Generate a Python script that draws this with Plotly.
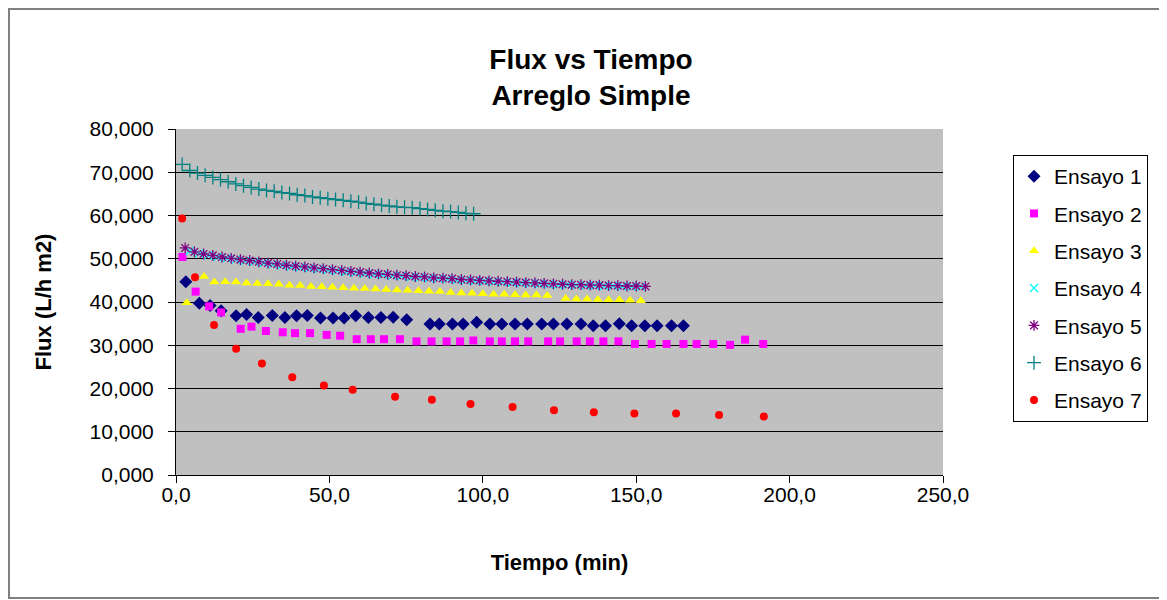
import plotly.graph_objects as go

# Ensayo data (Tiempo in min, Flux in L/h m2)
t1 = [3.2, 7.6, 11.1, 14.7, 19.6, 23.0, 26.8, 31.4, 35.5, 39.3, 42.8, 47.1, 51.2, 54.8,
      58.6, 62.7, 66.8, 70.8, 75.2, 82.8, 85.8, 90.1, 93.6, 98.0, 102.3, 106.2, 110.5,
      114.5, 119.2, 123.0, 127.4, 132.0, 136.0, 140.0, 144.5, 148.5, 152.8, 156.8, 161.5, 165.4]
f1 = [44.7, 39.7, 39.2, 38.0, 36.8, 37.1, 36.4, 36.9, 36.4, 36.8, 36.9, 36.3, 36.3, 36.3,
      36.8, 36.4, 36.4, 36.5, 35.9, 34.9, 34.9, 34.9, 34.9, 35.3, 34.9, 34.9, 34.9,
      34.9, 34.9, 34.9, 34.9, 34.9, 34.5, 34.5, 35.0, 34.5, 34.5, 34.5, 34.5, 34.5]

t2 = [2.1, 6.4, 10.8, 14.7, 21.1, 24.6, 29.3, 34.8, 38.8, 43.7, 49.1, 53.5, 58.9, 63.5,
      67.8, 73.0, 78.4, 83.3, 88.2, 92.6, 96.9, 102.3, 106.2, 110.5, 114.8, 121.3, 125.2,
      130.6, 134.9, 139.3, 144.2, 149.6, 155.0, 159.9, 165.4, 169.7, 175.1, 180.6, 185.5, 191.4]
f2 = [50.4, 42.4, 39.0, 37.6, 33.8, 34.3, 33.3, 33.0, 32.8, 32.8, 32.4, 32.2, 31.4, 31.4,
      31.4, 31.4, 30.9, 30.9, 30.9, 30.9, 31.1, 30.9, 30.9, 30.9, 30.9, 30.9, 30.9,
      30.9, 30.9, 30.9, 30.9, 30.3, 30.3, 30.3, 30.3, 30.3, 30.3, 30.1, 31.3, 30.3]

t3 = [3.5, 9.1, 12.5, 16.0, 19.5, 23.0, 26.5, 30.0, 33.5, 37.0, 40.5, 44.0, 47.5, 51.0,
      54.5, 58.0, 61.5, 65.0, 68.5, 72.0, 75.5, 79.0, 82.5, 86.0, 89.5, 93.0, 96.5, 100.0,
      103.5, 107.0, 110.5, 114.0, 117.5, 121.0, 127.0, 130.5, 134.0, 137.5, 141.0, 144.5,
      148.0, 151.5]
f3 = [39.8, 45.9, 44.6, 44.7, 44.6, 44.4, 44.3, 44.2, 44.1, 43.9, 43.8, 43.6, 43.5, 43.4,
      43.3, 43.2, 43.1, 43.0, 42.9, 42.8, 42.7, 42.6, 42.5, 42.4, 42.2, 42.1, 42.0, 41.9,
      41.8, 41.8, 41.7, 41.6, 41.6, 41.5, 40.8, 40.7, 40.7, 40.6, 40.5, 40.5, 40.4, 40.3]

t4 = [4.5, 7.5, 10.5, 13.5, 16.5, 19.5, 22.5, 25.5, 28.5, 31.5, 34.5, 37.5, 40.5, 43.5,
      46.5, 49.5, 52.5, 55.5, 58.5, 61.5, 64.5, 67.5, 70.5, 73.5, 76.5, 79.5, 82.5, 85.5,
      88.5, 91.5, 94.5, 97.5, 100.5, 103.5, 106.5, 109.5, 112.5, 115.5, 118.5, 121.5,
      124.5, 127.5, 130.5, 133.5, 136.5, 139.5, 142.5, 145.5, 148.5, 151.5]
f4 = [51.8, 51.2, 50.8, 50.4, 50.1, 49.8, 49.5, 49.3, 49.0, 48.7, 48.5, 48.2, 48.0, 47.8,
      47.6, 47.4, 47.2, 47.0, 46.8, 46.6, 46.4, 46.3, 46.1, 46.0, 45.8, 45.7, 45.5, 45.4,
      45.3, 45.1, 45.0, 44.9, 44.8, 44.7, 44.6, 44.5, 44.4, 44.3, 44.2, 44.1,
      44.0, 44.0, 43.9, 43.8, 43.8, 43.7, 43.7, 43.6, 43.6, 43.5]

t5 = [3, 6, 9, 12, 15, 18, 21, 24, 27, 30, 33, 36, 39, 42, 45, 48, 51, 54, 57, 60,
      63, 66, 69, 72, 75, 78, 81, 84, 87, 90, 93, 96, 99, 102, 105, 108, 111, 114, 117, 120,
      123, 126, 129, 132, 135, 138, 141, 144, 147, 150, 153]
f5 = [52.5, 51.6, 51.1, 50.8, 50.4, 50.1, 49.8, 49.6, 49.3, 49.0, 48.8, 48.5, 48.3, 48.1,
      47.9, 47.7, 47.5, 47.3, 47.1, 46.9, 46.7, 46.5, 46.4, 46.2, 46.1, 45.9, 45.8, 45.6,
      45.5, 45.4, 45.2, 45.1, 45.0, 44.9, 44.8, 44.7, 44.6, 44.5, 44.4, 44.3,
      44.2, 44.1, 44.0, 44.0, 43.9, 43.9, 43.8, 43.8, 43.7, 43.7, 43.6]

t6 = [2, 4.5, 7, 9.5, 12, 14.5, 17, 19.5, 22, 24.5, 27, 29.5, 32, 34.5, 37, 39.5, 42, 44.5,
      47, 49.5, 52, 54.5, 57, 59.5, 62, 64.5, 67, 69.5, 72, 74.5, 77, 79.5, 82, 84.5, 87,
      89.5, 92, 94.5, 97]
f6 = [71.8, 70.4, 69.8, 69.3, 68.8, 68.3, 67.8, 67.3, 66.9, 66.5, 66.1, 65.8, 65.6, 65.3,
      65.1, 64.8, 64.6, 64.3, 64.1, 63.9, 63.7, 63.5, 63.3, 63.1, 62.8, 62.6, 62.4, 62.2,
      62.0, 61.9, 61.8, 61.6, 61.4, 61.2, 61.0, 60.9, 60.7, 60.5, 60.4]

t7 = [2.0, 6.2, 12.4, 19.6, 28.0, 37.9, 48.2, 57.6, 71.4, 83.4, 96.0, 109.7, 123.2, 136.2,
      149.4, 163.0, 177.0, 191.6]
f7 = [59.3, 45.7, 34.7, 29.2, 25.8, 22.6, 20.7, 19.7, 18.1, 17.4, 16.4, 15.7, 15.0, 14.5,
      14.2, 14.2, 13.9, 13.5]

series = [
    ("Ensayo 1", t1, f1, "diamond", "#000080", 10),
    ("Ensayo 2", t2, f2, "square", "#FF00FF", 8),
    ("Ensayo 3", t3, f3, "triangle-up", "#FFFF00", 9),
    ("Ensayo 4", t4, f4, "x-thin", "#00FFFF", 8),
    ("Ensayo 5", t5, f5, "asterisk", "#800080", 9),
    ("Ensayo 6", t6, f6, "cross-thin", "#008080", 10),
    ("Ensayo 7", t7, f7, "circle", "#FF0000", 8),
]

fig = go.Figure()
for name, t, f, sym, col, size in series:
    thin = sym in ("x-thin", "asterisk", "cross-thin")
    fig.add_trace(go.Scatter(
        x=t, y=f, name=name, mode="markers", legendgroup=name,
        marker=dict(symbol=sym, color=col, size=size,
                    line=dict(color=col, width=1.3 if thin else 0)),
    ))

# page has an 8px body margin, so the figure is a bit smaller than the window
W, H = 1159, 592
L, R, T, B = 168, 224, 121, 125
pw, ph = W - L - R, H - T - B

fig.update_layout(
    width=W, height=H,
    margin=dict(l=L, r=R, t=T, b=B),
    paper_bgcolor="white", plot_bgcolor="#C0C0C0",
    separators=",.",
    font=dict(family="Arial, Liberation Sans", size=21, color="black"),
    title=dict(text="<b>Flux vs Tiempo<br>Arreglo Simple</b>", x=0.503, xref="container",
               xanchor="center", y=0.897, yref="container", yanchor="bottom",
               font=dict(size=28)),
    xaxis=dict(range=[0, 250], dtick=50, tickformat=".1f", showgrid=False, zeroline=False,
               showline=True, linecolor="black", linewidth=1, ticks="outside",
               ticklen=7, tickcolor="black", ticklabelstandoff=-6,
               title=dict(text="<b>Tiempo (min)</b>", font=dict(size=22), standoff=49)),
    yaxis=dict(range=[0, 80], dtick=10, tickformat=".3f", showgrid=True, gridcolor="black",
               gridwidth=1, zeroline=False, showline=True, linecolor="black", linewidth=1,
               ticks="outside", ticklen=7, tickcolor="black", ticklabelstandoff=10,
               title=dict(text="<b>Flux (L/h m2)</b>", font=dict(size=22), standoff=31)),
    legend=dict(x=(1005 - L) / pw, y=(H - B - 147) / ph, xanchor="left", yanchor="top",
                bgcolor="white", bordercolor="black", borderwidth=1,
                traceorder="grouped", tracegroupgap=7, font=dict(size=21)),
    showlegend=True,
)

# outer chart border
fig.add_shape(type="rect", xref="paper", yref="paper",
              x0=(1 - L) / pw, x1=(W + 4 - L) / pw,
              y0=(H - B - 590) / ph, y1=(H - B - 1) / ph,
              line=dict(color="#808080", width=2), fillcolor="rgba(0,0,0,0)", layer="below")

fig.write_html("out.html")
